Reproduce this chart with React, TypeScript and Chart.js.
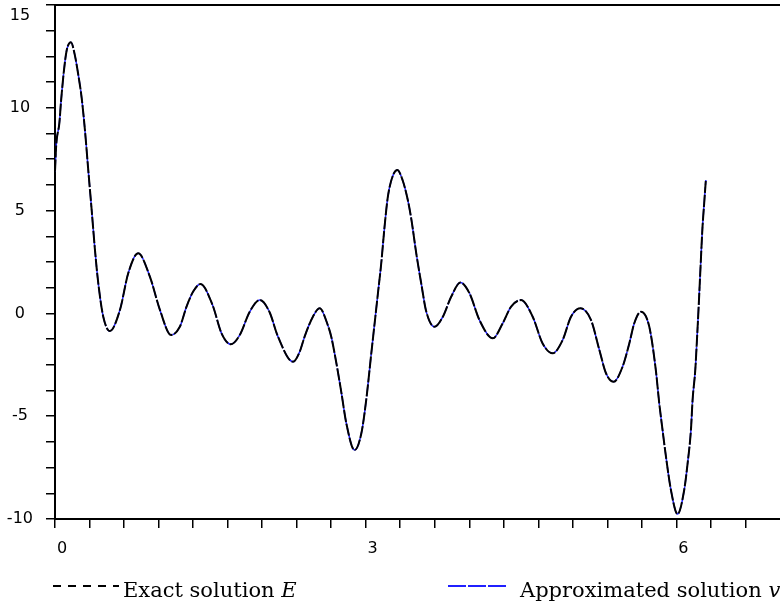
import React, { useEffect, useRef } from "react";
import { Chart, registerables } from "chart.js";

Chart.register(...registerables);

// x positions (radians)
const xValues = [
  0, 0.012, 0.042, 0.058, 0.087, 0.113, 0.154, 0.19, 0.225, 0.257, 0.289, 0.321, 0.354, 0.386,
  0.418, 0.466, 0.53, 0.627, 0.707, 0.803, 0.916, 1.013, 1.12, 1.205, 1.27, 1.334, 1.405, 1.521,
  1.608, 1.697, 1.784, 1.88, 1.977, 2.07, 2.153, 2.298, 2.363, 2.41, 2.49, 2.555, 2.636, 2.668,
  2.716, 2.765, 2.813, 2.893, 2.958, 3.005, 3.054, 3.086, 3.118, 3.15, 3.182, 3.214, 3.262, 3.305,
  3.358, 3.407, 3.44, 3.488, 3.536, 3.584, 3.664, 3.745, 3.825, 3.915, 4.002, 4.098, 4.227, 4.323,
  4.404, 4.5, 4.612, 4.708, 4.805, 4.902, 4.982, 5.072, 5.175, 5.256, 5.32, 5.395, 5.48, 5.545,
  5.593, 5.658, 5.738, 5.802, 5.834, 5.866, 5.899, 5.947, 6.011, 6.075, 6.108, 6.14, 6.156, 6.182,
  6.198, 6.213, 6.236, 6.252, 6.268, 6.284,
];

// Exact solution E
const exactValues = [
  6.9, 8.2, 9.25, 10.3, 11.84, 12.8, 13.19, 12.6, 11.6, 10.5, 8.92, 6.98, 5.03, 3.08,
  1.46, -0.16, -0.86, 0.17, 1.95, 2.92, 1.79, 0.17, -1.05, -0.65, 0.33, 1.06, 1.43, 0.41,
  -0.97, -1.5, -1.05, 0.08, 0.65, 0.08, -1.13, -2.35, -1.86, -1.13, -0.16, 0.25, -0.6, -1.15,
  -2.4, -3.85, -5.35, -6.65, -5.83, -4.21, -1.94, -0.48, 0.98, 2.44, 4.22, 5.68, 6.7, 6.98,
  6.45, 5.5, 4.6, 2.92, 1.46, 0.1, -0.65, -0.16, 0.81, 1.5, 0.98, -0.32, -1.21, -0.48,
  0.33, 0.65, -0.16, -1.46, -1.94, -1.29, -0.16, 0.25, -0.32, -1.78, -2.91, -3.32, -2.59, -1.46,
  -0.48, 0.08, -0.65, -2.8, -4.37, -5.67, -6.97, -8.59, -9.76, -8.59, -7.29, -5.67, -4.21, -2.75,
  -1.3, 0.17, 2.6, 4.22, 5.36, 6.49,
];

// Approximated solution v (indistinguishable from E at this resolution)
const approxValues = [
  6.9, 8.2, 9.25, 10.3, 11.84, 12.8, 13.19, 12.6, 11.6, 10.5, 8.92, 6.98, 5.03, 3.08,
  1.46, -0.16, -0.86, 0.17, 1.95, 2.92, 1.79, 0.17, -1.05, -0.65, 0.33, 1.06, 1.43, 0.41,
  -0.97, -1.5, -1.05, 0.08, 0.65, 0.08, -1.13, -2.35, -1.86, -1.13, -0.16, 0.25, -0.6, -1.15,
  -2.4, -3.85, -5.35, -6.65, -5.83, -4.21, -1.94, -0.48, 0.98, 2.44, 4.22, 5.68, 6.7, 6.98,
  6.45, 5.5, 4.6, 2.92, 1.46, 0.1, -0.65, -0.16, 0.81, 1.5, 0.98, -0.32, -1.21, -0.48,
  0.33, 0.65, -0.16, -1.46, -1.94, -1.29, -0.16, 0.25, -0.32, -1.78, -2.91, -3.32, -2.59, -1.46,
  -0.48, 0.08, -0.65, -2.8, -4.37, -5.67, -6.97, -8.59, -9.76, -8.59, -7.29, -5.67, -4.21, -2.75,
  -1.3, 0.17, 2.6, 4.22, 5.36, 6.49,
];

// tick marks (every 1/3 on x, every 1.25 on y) and their labels
const xTickValues = [0, 1 / 3, 2 / 3, 1, 4 / 3, 5 / 3, 2, 7 / 3, 8 / 3, 3, 10 / 3, 11 / 3, 4, 13 / 3, 14 / 3, 5, 16 / 3, 17 / 3, 6, 19 / 3, 20 / 3];
const xLabeledTicks = [0, 3, 6];
const xTickLabels = ["0", "3", "6"];
const yTickValues = [-10, -8.75, -7.5, -6.25, -5, -3.75, -2.5, -1.25, 0, 1.25, 2.5, 3.75, 5, 6.25, 7.5, 8.75, 10, 11.25, 12.5, 13.75, 15];
const yLabeledTicks = [-10, -5, 0, 5, 10, 15];
const yTickLabels = ["-10", "-5", "0", "5", "10", "15"];

const labelFor = (v: number, vals: number[], labels: string[]) => {
  const i = vals.findIndex((t) => Math.abs(t - v) < 1e-6);
  return i >= 0 ? labels[i] : "";
};

export default function App() {
  const ref = useRef<HTMLCanvasElement | null>(null);

  useEffect(() => {
    if (!ref.current) return;
    const xFont = { family: "DejaVu Sans", size: 16 };
    const yFont = { family: "DejaVu Sans", size: 16, lineHeight: 1.3 };
    const yMax = yTickValues[yTickValues.length - 1];
    const chart = new Chart(ref.current, {
      type: "line",
      data: {
        datasets: [
          {
            label: "Exact solution E",
            data: xValues.map((x, i) => ({ x, y: exactValues[i] })),
            borderColor: "#000000",
            borderWidth: 2,
            borderDash: [12, 2],
            pointRadius: 0,
            cubicInterpolationMode: "monotone",
            order: 0,
          },
          {
            label: "Approximated solution v",
            data: xValues.map((x, i) => ({ x, y: approxValues[i] })),
            borderColor: "#2020ff",
            borderWidth: 1.5,
            borderDash: [18, 2],
            pointRadius: 0,
            cubicInterpolationMode: "monotone",
            order: 1,
          },
        ],
      },
      options: {
        animation: false,
        responsive: false,
        layout: { padding: { top: 5, right: 0, left: 0, bottom: 0 } },
        plugins: { legend: { display: false }, tooltip: { enabled: false } },
        scales: {
          x: {
            type: "linear",
            position: "bottom",
            min: 0,
            max: 7,
            afterBuildTicks: (s: any) => {
              s.ticks = xTickValues.map((v) => ({ value: v }));
            },
            afterFit: (s: any) => {
              s.height = 90;
              s.paddingLeft = 0;
              s.paddingRight = 0;
            },
            grid: { drawOnChartArea: false, drawTicks: true, tickLength: 9, color: "#000", lineWidth: 1.5 },
            border: { display: true, color: "#000", width: 2 },
            ticks: {
              autoSkip: false,
              maxRotation: 0,
              padding: 11,
              labelOffset: 7,
              color: "#000",
              font: xFont,
              callback: (v: any) => labelFor(Number(v), xLabeledTicks, xTickLabels),
            },
          },
          x2: {
            type: "linear",
            position: "top",
            min: 0,
            max: 7,
            grid: { display: false, drawTicks: false },
            ticks: { display: false },
            border: { display: true, color: "#000", width: 2 },
            afterFit: (s: any) => {
              s.height = 0;
              s.paddingLeft = 0;
              s.paddingRight = 0;
            },
          },
          y: {
            type: "linear",
            min: -10,
            max: 15,
            afterBuildTicks: (s: any) => {
              s.ticks = yTickValues.map((v) => ({ value: v }));
            },
            afterFit: (s: any) => {
              s.width = 55;
              s.paddingTop = 0;
              s.paddingBottom = 0;
            },
            grid: { drawOnChartArea: false, drawTicks: true, tickLength: 9, color: "#000", lineWidth: 1.5 },
            border: { display: true, color: "#000", width: 2 },
            ticks: {
              autoSkip: false,
              crossAlign: "center",
              padding: 13,
              color: "#000",
              font: yFont,
              callback: (v: any) => {
                const t = labelFor(Number(v), yLabeledTicks, yTickLabels);
                // the top label sits just below its tick so it stays inside the picture
                return Math.abs(Number(v) - yMax) < 1e-6 ? ["", t] : t;
              },
            },
          },
        },
      },
    } as any);
    return () => chart.destroy();
  }, []);

  const legendText: React.CSSProperties = {
    position: "absolute",
    top: 578,
    fontFamily: "'DejaVu Serif', serif",
    fontSize: 21,
    color: "#000",
    whiteSpace: "nowrap",
    lineHeight: "24px",
  };

  return (
    <div style={{ position: "fixed", left: 0, top: 0, width: 780, height: 609, background: "#fff" }}>
      <canvas ref={ref} width={780} height={609} style={{ display: "block", width: 780, height: 609 }} />
      <div
        style={{
          position: "absolute",
          left: 53,
          top: 585,
          width: 66,
          height: 1.5,
          background: "repeating-linear-gradient(to right, #000 0 8px, transparent 8px 15px)",
        }}
      />
      <div style={{ ...legendText, left: 123 }}>
        Exact solution <i>E</i>
      </div>
      <div
        style={{
          position: "absolute",
          left: 448,
          top: 585,
          width: 60,
          height: 1.5,
          background: "repeating-linear-gradient(to right, #2020ff 0 18px, transparent 18px 20px)",
        }}
      />
      <div style={{ ...legendText, left: 520 }}>
        Approximated solution <i>v</i>
      </div>
    </div>
  );
}
